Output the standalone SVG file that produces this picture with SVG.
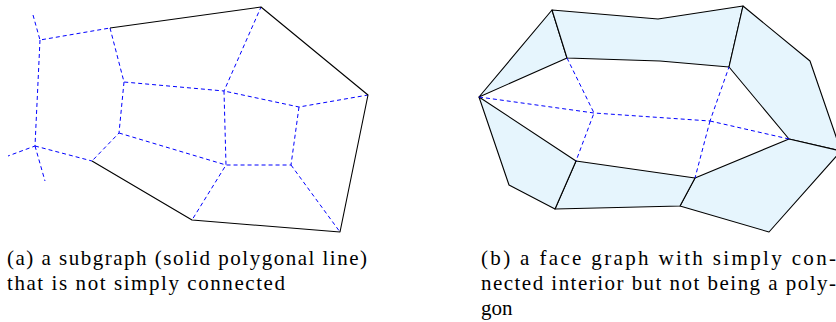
<svg xmlns="http://www.w3.org/2000/svg" width="836" height="322" viewBox="0 0 836 322">
<style>
.solid{fill:none;stroke:#000;stroke-width:1.1;stroke-linejoin:round}
.dash{fill:none;stroke:#0000ff;stroke-width:1;stroke-dasharray:4 3}
.face{fill:#e6f5fd;stroke:#000;stroke-width:1.1;stroke-linejoin:round}
.cap{font-family:"Liberation Serif",serif;font-size:21px;fill:#000}
</style>
<rect width="836" height="322" fill="#fff"/>
<g id="figure-a">
  <g id="a-connectors">
    <path class="dash" d="M33,15 L40,40 L110,28 M40,40 L35,146 L8,156 M35,146 L45,181 M35,146 L92,161 M110,28 L124,82 L224,91 L261,7 M124,82 L119,133 L92,161 M119,133 L226,165 L224,91 L299,107 L368,95 M299,107 L291,165 L226,165 L192,220 M291,165 L340,232"/>
    <polyline id="a-subgraph" class="solid" points="92,161 192,220 340,232 368,95 261,7 110,28"/>
  </g>
</g>
<g id="figure-b">
  <g id="b-faces">
    <polygon id="face1" class="face" points="479,97 552,10 567,58"/>
    <polygon id="face2" class="face" points="552,10 658,19 743,6 729,67 660,61 567,58"/>
    <polygon id="face3" class="face" points="743,6 810,61 841,151 789,139 729,67"/>
    <polygon id="face4" class="face" points="789,139 841,151 769,232 680,206 695,178"/>
    <polygon id="face5" class="face" points="695,178 680,206 555,209 576,161"/>
    <polygon id="face6" class="face" points="576,161 555,209 509,185 479,97"/>
  </g>
  <g id="b-connectors">
    <path class="dash" d="M567,58 L594,113 L576,161 M479,97 L594,113 L710,121 L729,67 M710,121 L695,178 M710,121 L789,139"/>
  </g>
</g>
<g id="captions">
  <text class="cap" x="7" y="265" textLength="360" lengthAdjust="spacing">(a) a subgraph (solid polygonal line)</text>
  <text class="cap" x="7" y="290" textLength="278" lengthAdjust="spacing">that is not simply connected</text>
  <text class="cap" x="481" y="265" textLength="355" lengthAdjust="spacing">(b) a face graph with simply con-</text>
  <text class="cap" x="481" y="290" textLength="355" lengthAdjust="spacing">nected interior but not being a poly-</text>
  <text class="cap" x="481" y="315">gon</text>
</g>
</svg>
